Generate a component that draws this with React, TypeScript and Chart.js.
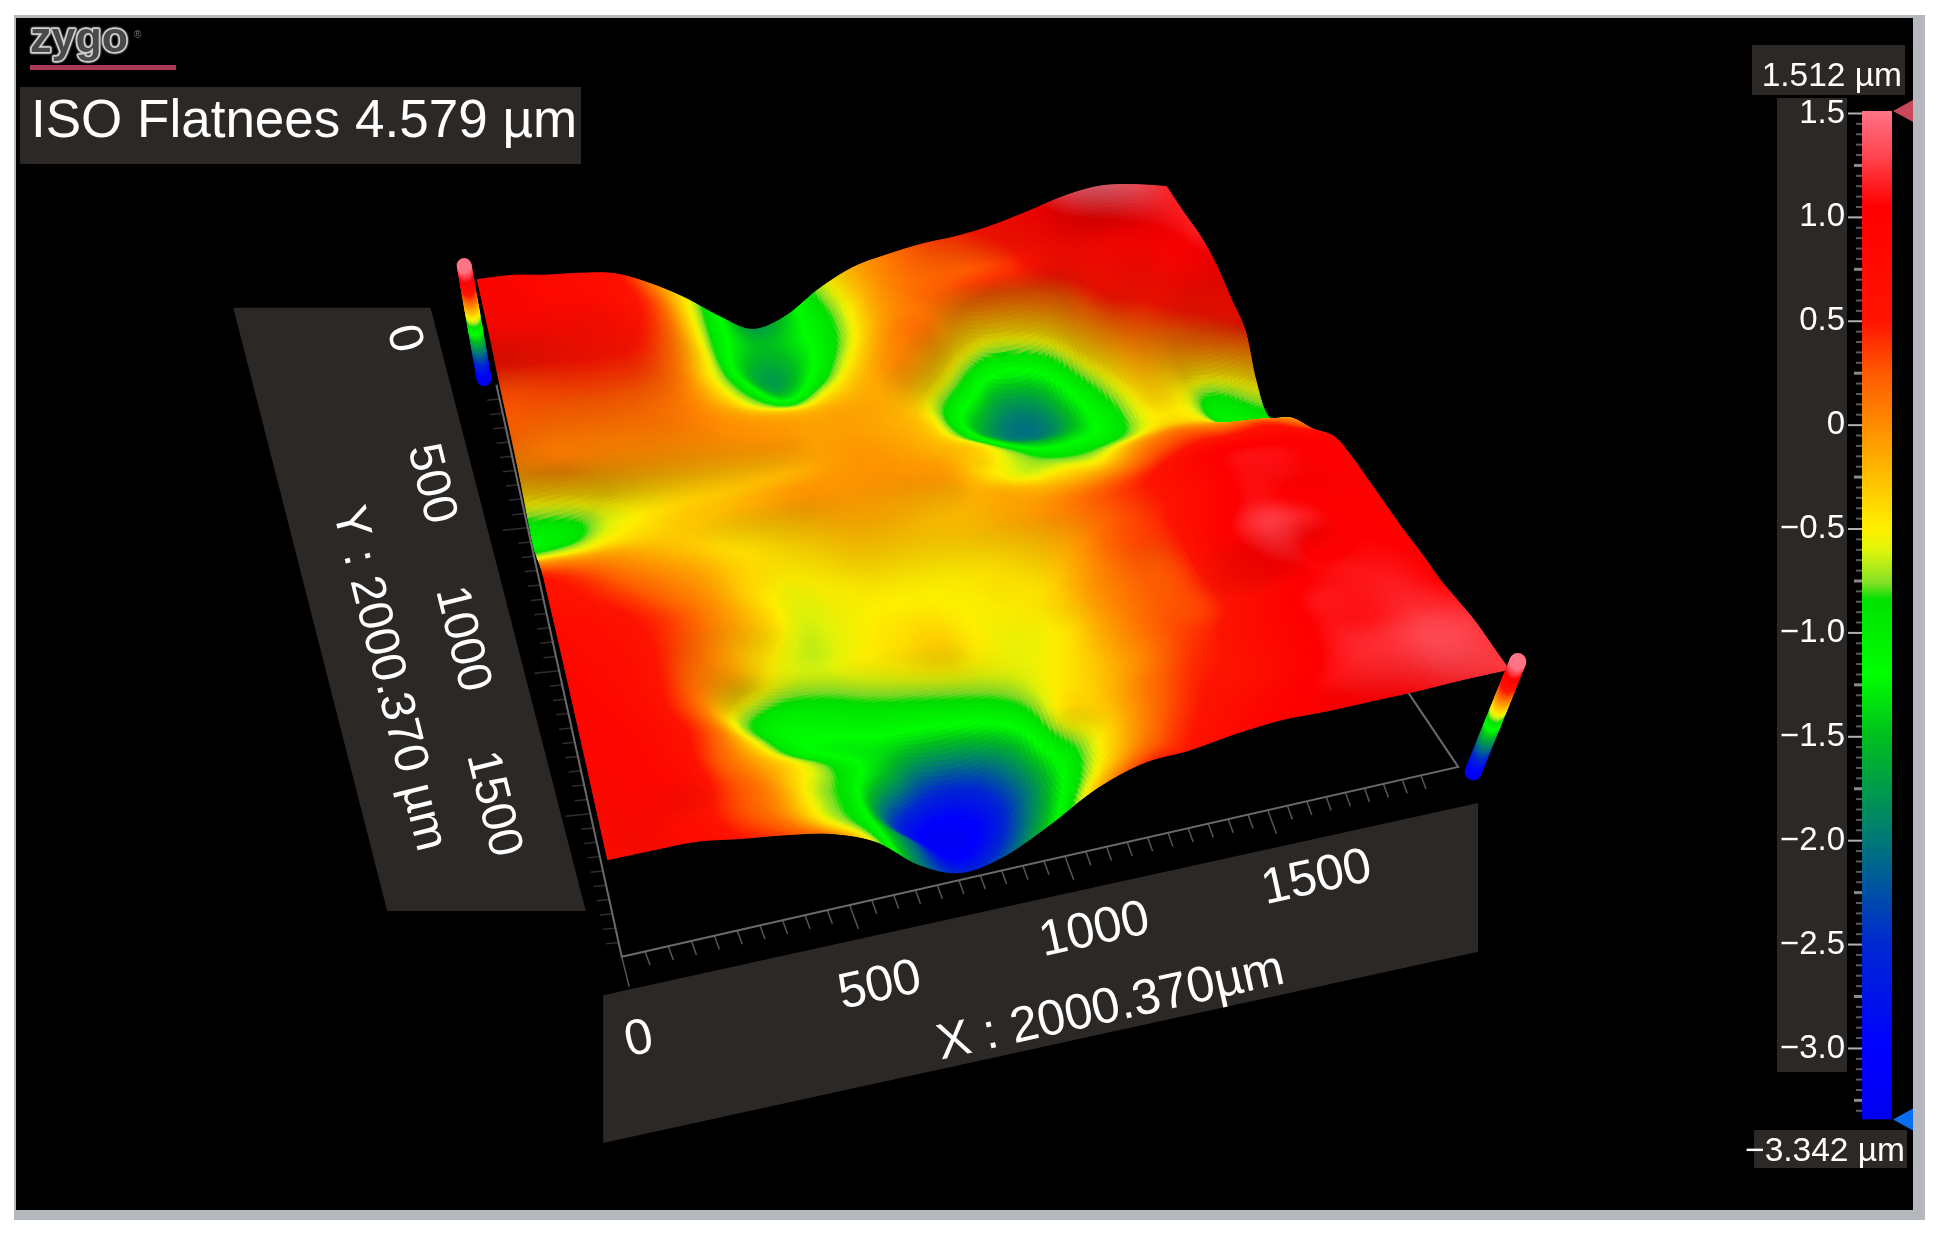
import React, { useEffect, useRef } from "react";
import { Chart, registerables } from "chart.js";

Chart.register(...registerables);

// ---------- data ----------
const zMin = -3.342;
const zMax = 1.512;
const isoFlatness = "ISO Flatnees 4.579 µm";
const xAxisTitle = "X : 2000.370µm";
const yAxisTitle = "Y : 2000.370 µm";
const axisLength = 2000.37;
const xTickLabels = [0, 500, 1000, 1500];
const yTickLabels = [0, 500, 1000, 1500];
const colourBarTicks = [1.5, 1.0, 0.5, 0, -0.5, -1.0, -1.5, -2.0, -2.5, -3.0];

// Surface height in µm, row = Y from 0 to 2000 µm, column = X from 0 to 2000 µm
const r00 = [.88,.88,.76,.69,.54,.10,-.48,-1.18,-1.72,-1.45,-.72,-.17,.10,.30,.41,.61,.92,1.27,1.46,1.38,1.19];
const r01 = [.85,.85,.8,.75,.6,.25,-.5,-1.2,-1.5,-1.3,-.85,-.2,.1,.2,.25,.4,.7,.9,1.0,1.1,1.15];
const r02 = [.75,.75,.7,.65,.55,.2,-.5,-1.3,-1.75,-1.3,-.75,-.15,.1,.2,.3,.35,.5,.7,.85,.95,1.15];
const r03 = [.35,.4,.45,.45,.4,.1,-.5,-1.0,-1.4,-1.0,-.45,0,.1,-.3,-.6,-.45,0,.5,.6,.85,1];
const r04 = [.25,.25,.25,.25,.2,.05,-.3,-.65,-.8,-.5,-.2,0,-.35,-1,-1.7,-1.6,-.5,.1,.35,.55,.7];
const r05 = [.15,.1,.1,.1,.1,.05,-.05,-.15,-.2,-.15,-.15,-.3,-.9,-1.6,-2,-1.9,-.95,-.2,-.1,.1,.4];
const r06 = [-.2,-.05,-.05,-.05,-.05,-.05,-.05,-.05,-.1,-.1,-.15,-.3,-.8,-1.2,-1.45,-1.4,-1.1,-.4,-.5,-.9,-.4];
const r07 = [-1.1,-.95,-.6,-.45,-.35,-.3,-.25,-.2,-.1,-.05,-.1,-.2,-.35,-.7,-.95,-.95,-.8,-.45,-.5,-.95,-.85];
const r08 = [-.7,-.65,-.5,-.4,-.3,-.25,-.15,-.05,-.05,-.05,-.05,-.1,-.4,-.6,-.55,-.5,-.1,.1,.05,.05,-.1];
const r09 = [0,-.05,-.1,-.2,-.3,-.4,-.35,-.25,-.15,-.15,-.2,-.2,-.15,-.2,-.15,0,.3,.5,.55,.6,.35];
const r10 = [.5,.35,.15,0,-.15,-.35,-.45,-.4,-.3,-.3,-.3,-.25,-.15,0,.2,.4,.65,1,1.05,1,.9];
const r11 = [.6,.5,.35,.15,-.05,-.35,-.55,-.5,-.45,-.45,-.45,-.4,-.3,-.1,.2,.4,.65,1.05,1.1,1.05,1];
const r12 = [.75,.65,.5,.3,0,-.3,-.6,-.55,-.5,-.5,-.5,-.45,-.4,-.1,.25,.4,.8,1.1,1.05,1,1];
const r13 = [.8,.7,.55,.25,-.1,-.45,-.65,-.55,-.45,-.4,-.5,-.5,-.4,-.05,.2,.35,.95,1.25,1.15,1,1];
const r14 = [.85,.75,.55,.15,-.2,-.6,-.65,-.55,-.45,-.35,-.5,-.55,-.45,-.05,.2,.35,.85,1.15,1,1.05,1];
const r15 = [.85,.8,.55,.1,-.75,-1.1,-1,-.85,-.75,-.65,-.6,-.55,-.4,-.05,.25,.35,.7,1,1.1,1.1,1.05];
const r16 = [.85,.85,.65,.25,-.45,-1.05,-1.25,-1.25,-1.3,-1.2,-.95,-.55,-.35,-.05,.3,.5,.8,1.1,1.12,1.15,1.05];
const r17 = [.85,.85,.7,.25,-.15,-.55,-1,-1.6,-2.4,-2.4,-1.7,-.55,-.3,.1,.4,.55,.85,1.1,1.12,1.2,1.15];
const r18 = [.8,.85,.75,.35,0,-.6,-1.1,-2.5,-3.2,-2.9,-2,-.95,-.3,.2,.5,.6,.9,1.15,1.22,1.3,1.25];
const r19 = [.75,.8,.65,.35,.05,-.5,-1,-2,-3,-2.7,-1.8,-.8,-.1,.35,.6,.85,1.05,1.15,1.2,1.3,1.25];
const r20 = [.7,.73,.73,.5,.3,0,-.66,-1.9,-2.56,-2.27,-1.4,-.3,.35,.5,.8,1,1,1.05,1.1,1.2,1.25];
const surfaceRows = [r00,r01,r02,r03,r04,r05,r06,r07,r08,r09,r10,r11,r12,r13,r14,r15,r16,r17,r18,r19,r20];

// ---------- style ----------
const colourStops: [number, number, number, number][] = [
  [1.512, 255, 115, 135], [1.3, 255, 70, 80], [1.05, 255, 0, 0], [0.5, 255, 20, 0], [0.25, 255, 90, 0],
  [0, 255, 140, 0], [-0.25, 255, 190, 0], [-0.5, 255, 240, 0], [-0.6, 225, 245, 10], [-0.76, 130, 225, 40],
  [-0.84, 0, 225, 0], [-1.2, 0, 255, 0], [-1.5, 0, 190, 30], [-2, 0, 120, 120], [-2.5, 0, 40, 210],
  [-3, 0, 0, 255], [-3.342, 0, 0, 240],
];
function rgbOf(z: number): number[] {
  if (z >= colourStops[0][0]) return colourStops[0].slice(1);
  for (let i = 1; i < colourStops.length; i++) {
    const b = colourStops[i];
    if (z >= b[0]) {
      const a = colourStops[i - 1];
      const t = (z - b[0]) / (a[0] - b[0]);
      return [b[1] + (a[1] - b[1]) * t, b[2] + (a[2] - b[2]) * t, b[3] + (a[3] - b[3]) * t];
    }
  }
  return [0, 0, 240];
}
function colourOf(z: number, shade = 1) {
  const c = rgbOf(z);
  return `rgb(${Math.round(c[0] * shade)},${Math.round(c[1] * shade)},${Math.round(c[2] * shade)})`;
}

const PAPER_W = 1560;
const PAPER_H = (1239 / 1936) * 1560;
const PANEL = "#2b2826";

// ---------- projection of (X, Y, height) to the flat picture scales ----------
const baseTL = [402, 334], baseTR = [912, 267], baseBL = [503, 776], baseBR = [1178, 634];
const liftTL = [-20, -125], liftTR = [30, -125], liftBL = [-16, -100], liftBR = [40, -100];
const bil = (a: number[], b: number[], c: number[], d: number[], u: number, v: number, k: number) =>
  (a[k] * (1 - u) + b[k] * u) * (1 - v) + (c[k] * (1 - u) + d[k] * u) * v;
function project(u: number, v: number, z: number) {
  const f = (z - zMin) / (zMax - zMin);
  return {
    x: bil(baseTL, baseTR, baseBL, baseBR, u, v, 0) + f * bil(liftTL, liftTR, liftBL, liftBR, u, v, 0),
    y: bil(baseTL, baseTR, baseBL, baseBR, u, v, 1) + f * bil(liftTL, liftTR, liftBL, liftBR, u, v, 1),
  };
}
const N = surfaceRows.length;
const M = surfaceRows[0].length;
const surfacePoints: { x: number; y: number; z: number }[] = [];
surfaceRows.forEach((row, j) =>
  row.forEach((z, i) => surfacePoints.push({ ...project(i / (M - 1), j / (N - 1), z), z }))
);

// base axes
const origin = [501, 771], xEnd = [1175, 618], yEnd = [400, 310], backRight = [1128, 548];
const xAt = (m: number) => ({
  x: origin[0] + ((xEnd[0] - origin[0]) * m) / axisLength * (1 + 0.12 * (1 - m / axisLength)),
  y: origin[1] + ((xEnd[1] - origin[1]) * m) / axisLength * (1 + 0.12 * (1 - m / axisLength)),
});
const yAt = (m: number) => ({
  x: yEnd[0] + ((origin[0] - yEnd[0]) * m) / axisLength,
  y: yEnd[1] + ((origin[1] - yEnd[1]) * m) / axisLength,
});
const axisLine = [{ x: yEnd[0], y: yEnd[1] }, { x: origin[0], y: origin[1] }, { x: xEnd[0], y: xEnd[1] }, { x: backRight[0], y: backRight[1] }];
const xTicks: any[] = [];
for (let m = 50; m < 1950; m += 50) {
  const p = xAt(m);
  const long = m % 500 === 0;
  xTicks.push(p, { x: p.x + (long ? 7 : 4), y: p.y + (long ? 19 : 11) }, { x: NaN, y: NaN });
}
xTicks.push({ x: origin[0], y: origin[1] }, { x: origin[0] + 6, y: origin[1] + 24 }, { x: NaN, y: NaN });
const yTicks: any[] = [];
for (let m = 50; m < 2000; m += 50) {
  const p = yAt(m);
  const long = m % 500 === 0;
  yTicks.push(p, { x: p.x - (long ? 20 : 10), y: p.y + (long ? 2 : 1) }, { x: NaN, y: NaN });
}
const pegBackEnds = [[374, 214], [390, 305]];
const pegFrontEnds = [[1223, 533], [1187, 622]];

// ---------- Catmull-Rom sampling of the surface points ----------
const cr = (a: number, b: number, c: number, d: number, t: number) =>
  0.5 * (2 * b + (c - a) * t + (2 * a - 5 * b + 4 * c - d) * t * t + (3 * b - a - 3 * c + d) * t * t * t);

const surfacePlugin = {
  id: "surfacePlugin",
  beforeDatasetsDraw(chart: any) {
    const { ctx, width, height } = chart;
    const sx = chart.scales.x, sy = chart.scales.y;
    const X = (v: number) => sx.getPixelForValue(v);
    const Y = (v: number) => sy.getPixelForValue(v);
    ctx.save();
    ctx.fillStyle = "#ffffff";
    ctx.fillRect(0, 0, width, height);
    ctx.fillStyle = "#b4b7bc";
    ctx.fillRect(14, 15, 1911, 1205);
    ctx.fillStyle = "#000000";
    ctx.fillRect(16, 18, 1897, 1192);
    const poly = (pts: number[][]) => {
      ctx.beginPath();
      pts.forEach((p, i) => (i ? ctx.lineTo(X(p[0]), Y(p[1])) : ctx.moveTo(X(p[0]), Y(p[1]))));
      ctx.closePath();
      ctx.fill();
    };
    ctx.fillStyle = PANEL;
    ctx.fillRect(20, 87, 561, 77);
    ctx.fillRect(1752, 45, 153, 50);
    ctx.fillRect(1777, 98, 70, 974);
    ctx.fillRect(1754, 1130, 153, 38);
    poly([[188, 248], [347, 248], [472, 734], [312, 734]]);
    poly([[486, 802], [1191, 647], [1191, 767], [486, 921]]);
    ctx.restore();
  },
  afterDatasetsDraw(chart: any) {
    const { ctx } = chart;
    const sx = chart.scales.x, sy = chart.scales.y;
    const X = (v: number) => sx.getPixelForValue(v);
    const Y = (v: number) => sy.getPixelForValue(v);
    const pts = chart.getDatasetMeta(0).data;
    const raw = chart.data.datasets[0].data;
    const get = (j: number, i: number, c: number) => {
      const jj = Math.max(0, Math.min(N - 1, j));
      const ii = Math.max(0, Math.min(M - 1, i));
      const k = jj * M + ii;
      return c === 0 ? pts[k].x : c === 1 ? pts[k].y : raw[k].z;
    };
    const S = 12;
    const W = (M - 1) * S + 1;
    const H = (N - 1) * S + 1;
    const field = new Float32Array(W * H * 3);
    for (let j = 0; j < H; j++) {
      const rj = Math.min(N - 2, Math.floor(j / S));
      const tj = j / S - rj;
      for (let i = 0; i < W; i++) {
        const ri = Math.min(M - 2, Math.floor(i / S));
        const ti = i / S - ri;
        for (let c = 0; c < 3; c++) {
          const r0 = cr(get(rj - 1, ri - 1, c), get(rj - 1, ri, c), get(rj - 1, ri + 1, c), get(rj - 1, ri + 2, c), ti);
          const r1 = cr(get(rj, ri - 1, c), get(rj, ri, c), get(rj, ri + 1, c), get(rj, ri + 2, c), ti);
          const r2 = cr(get(rj + 1, ri - 1, c), get(rj + 1, ri, c), get(rj + 1, ri + 1, c), get(rj + 1, ri + 2, c), ti);
          const r3 = cr(get(rj + 2, ri - 1, c), get(rj + 2, ri, c), get(rj + 2, ri + 1, c), get(rj + 2, ri + 2, c), ti);
          field[(j * W + i) * 3 + c] = cr(r0, r1, r2, r3, tj);
        }
      }
    }
    ctx.save();
    ctx.lineWidth = 1;
    ctx.lineJoin = "round";
    for (let j = 0; j < H - 1; j++) {
      for (let i = 0; i < W - 1; i++) {
        const a = (j * W + i) * 3, b = a + 3, d = ((j + 1) * W + i) * 3, e = d + 3;
        const z = (field[a + 2] + field[b + 2] + field[d + 2] + field[e + 2]) / 4;
        // slopes that fall towards the viewer are in shade (measured over one grid step)
        const jLo = Math.max(0, j - S / 2), jHi = Math.min(H - 1, j + S / 2);
        const gz = ((field[(jHi * W + i) * 3 + 2] - field[(jLo * W + i) * 3 + 2]) / (jHi - jLo)) * S;
        const warm = Math.max(0, Math.min(1, (z + 0.9) / 0.5));
        let shade = 1;
        if (gz < 0) shade = 1 - Math.min(0.2, -gz * 0.4) * warm;
        const col = colourOf(z, shade);
        ctx.fillStyle = col;
        ctx.strokeStyle = col;
        ctx.beginPath();
        ctx.moveTo(field[a], field[a + 1]);
        ctx.lineTo(field[b], field[b + 1]);
        ctx.lineTo(field[e], field[e + 1]);
        ctx.lineTo(field[d], field[d + 1]);
        ctx.closePath();
        ctx.fill();
        ctx.stroke();
      }
    }
    // pegs
    [pegBackEnds, pegFrontEnds].forEach((peg, idx) => {
      ctx.lineCap = "round";
      ctx.lineWidth = idx ? 17 : 15;
      for (let q = 0; q < 60; q++) {
        const t = q / 59;
        const z = zMin + (zMax - zMin) * t;
        const p1 = peg[0], p0 = peg[1];
        const px = X(p0[0] + (p1[0] - p0[0]) * t), py = Y(p0[1] + (p1[1] - p0[1]) * t);
        ctx.strokeStyle = colourOf(z);
        ctx.beginPath();
        ctx.moveTo(px, py);
        ctx.lineTo(px + 0.1, py + 0.1);
        ctx.stroke();
      }
    });
    // text
    const text = (s: string, x: number, y: number, deg: number, size: number) => {
      ctx.save();
      ctx.translate(X(x), Y(y));
      ctx.rotate((deg * Math.PI) / 180);
      ctx.font = `${size}px "Liberation Sans"`;
      ctx.fillStyle = "#ffffff";
      ctx.textAlign = "center";
      ctx.textBaseline = "middle";
      ctx.fillText(s, 0, 0);
      ctx.restore();
    };
    ctx.font = '53px "Liberation Sans"';
    ctx.fillStyle = "#ffffff";
    ctx.textAlign = "left";
    ctx.textBaseline = "alphabetic";
    ctx.fillText(isoFlatness, 31, 137);
    ctx.font = '33.5px "Liberation Sans"';
    ctx.textAlign = "right";
    ctx.fillText(`${zMax.toFixed(3)} µm`, 1902, 86);
    ctx.fillText(`−${Math.abs(zMin).toFixed(3)} µm`, 1905, 1161);
    const xLabelPos = [[515, 838], [709, 795], [882, 750], [1061, 708]];
    xTickLabels.forEach((v, i) => text(String(v), xLabelPos[i][0], xLabelPos[i][1], -12.5, 50));
    const yLabelPos = [[325, 273], [347, 390], [372, 515], [397, 648]];
    yTickLabels.forEach((v, i) => text(String(v), yLabelPos[i][0], yLabelPos[i][1], 76, 48));
    text(xAxisTitle, 895, 812, -12.5, 50);
    text(yAxisTitle, 313, 547, 76, 48);
    // logo
    ctx.font = 'bold 43px "Liberation Sans"';
    ctx.textAlign = "left";
    ctx.lineWidth = 3;
    ctx.shadowColor = "#ffffff";
    ctx.shadowBlur = 2;
    ctx.strokeStyle = "#c4c4c4";
    ctx.fillStyle = "#4a4a4a";
    ctx.strokeText("zygo", 30, 52);
    ctx.fillText("zygo", 30, 52);
    ctx.shadowBlur = 0;
    ctx.font = '10px "Liberation Sans"';
    ctx.fillStyle = "#777";
    ctx.fillText("®", 134, 38);
    ctx.fillStyle = "#a83a58";
    ctx.fillRect(30, 65, 146, 5);
    ctx.restore();
  },
};

const barPlugin = {
  id: "barPlugin",
  afterDatasetsDraw(chart: any) {
    const { ctx, chartArea } = chart;
    const sy = chart.scales.y;
    ctx.save();
    sy.ticks.forEach((t: any) => {
      const v = Math.round(t.value * 100);
      const major = v % 50 === 0;
      const mid = !major && v % 25 === 0;
      const y = sy.getPixelForValue(t.value);
      ctx.strokeStyle = major ? "#b0b0b0" : mid ? "#8a8a8a" : "#5c5c5c";
      ctx.lineWidth = major ? 2 : mid ? 3 : 2;
      ctx.beginPath();
      ctx.moveTo(chartArea.left - (major ? 14 : mid ? 8 : 6), y);
      ctx.lineTo(chartArea.left, y);
      ctx.stroke();
    });
    const tri = (y: number, col: string) => {
      ctx.fillStyle = col;
      ctx.beginPath();
      ctx.moveTo(chartArea.right + 1, y);
      ctx.lineTo(chartArea.right + 21, y - 11);
      ctx.lineTo(chartArea.right + 21, y + 11);
      ctx.closePath();
      ctx.fill();
    };
    tri(sy.getPixelForValue(zMax), "#c8475a");
    tri(sy.getPixelForValue(zMin), "#0a6cf0");
    ctx.restore();
  },
};

export default function App() {
  const mainRef = useRef<HTMLCanvasElement>(null);
  const barRef = useRef<HTMLCanvasElement>(null);
  useEffect(() => {
    document.body.style.margin = "0";
    document.body.style.background = "#fff";
    const main = new Chart(mainRef.current!, {
      type: "scatter",
      data: {
        datasets: [
          { label: "Surface height", data: surfacePoints, pointRadius: 0, showLine: false } as any,
          { label: "Axes", data: axisLine, showLine: true, borderColor: "#6a6a6a", borderWidth: 2, pointRadius: 0 } as any,
          { label: "X ticks", data: xTicks, showLine: true, spanGaps: false, borderColor: "#555", borderWidth: 1.5, pointRadius: 0 } as any,
          { label: "Y ticks", data: yTicks, showLine: true, spanGaps: false, borderColor: "#2e2e2e", borderWidth: 1.5, pointRadius: 0 } as any,
        ],
      },
      options: {
        animation: false,
        responsive: false,
        layout: { padding: 0 },
        plugins: { legend: { display: false }, tooltip: { enabled: false } },
        scales: {
          x: { type: "linear", min: 0, max: PAPER_W, display: false },
          y: { type: "linear", min: 0, max: PAPER_H, reverse: true, display: false },
        },
      },
      plugins: [surfacePlugin],
    });
    const bar = new Chart(barRef.current!, {
      type: "bar",
      data: {
        labels: ["µm"],
        datasets: [
          {
            label: "Colour scale",
            data: [[zMin, zMax]],
            barPercentage: 1,
            categoryPercentage: 1,
            backgroundColor: (c: any) => {
              const area = c.chart.chartArea;
              if (!area) return "#f00";
              const g = c.chart.ctx.createLinearGradient(0, area.top, 0, area.bottom);
              colourStops.forEach((s) => g.addColorStop((zMax - s[0]) / (zMax - zMin), colourOf(s[0])));
              return g;
            },
          } as any,
        ],
      },
      options: {
        animation: false,
        responsive: false,
        layout: { padding: { top: 111, bottom: 119.5, left: 0, right: 44 } },
        plugins: { legend: { display: false }, tooltip: { enabled: false } },
        scales: {
          x: { display: false },
          y: {
            min: zMin,
            max: zMax,
            afterFit: (s: any) => { s.width = 122; },
            border: { display: false },
            grid: { display: false, drawTicks: false },
            ticks: {
              stepSize: 0.05,
              includeBounds: false,
              autoSkip: false,
              padding: 17,
              color: "#ffffff",
              font: { family: "Liberation Sans", size: 33 },
              callback: (v: any) => {
                const w = Math.round(Number(v) * 100) / 100;
                if (!colourBarTicks.includes(w)) return "";
                const s = Math.abs(w) < 1e-9 ? "0" : Math.abs(w).toFixed(1);
                return w < -1e-9 ? `−${s}` : s;
              },
            },
          },
        },
      },
      plugins: [barPlugin],
    });
    return () => {
      main.destroy();
      bar.destroy();
    };
  }, []);
  return (
    <div style={{ position: "fixed", left: 0, top: 0, width: 1936, height: 1239, overflow: "hidden" }}>
      <canvas ref={mainRef} width={1936} height={1239} style={{ position: "absolute", left: 0, top: 0 }} />
      <canvas ref={barRef} width={196} height={1239} style={{ position: "absolute", left: 1740, top: 0 }} />
    </div>
  );
}
